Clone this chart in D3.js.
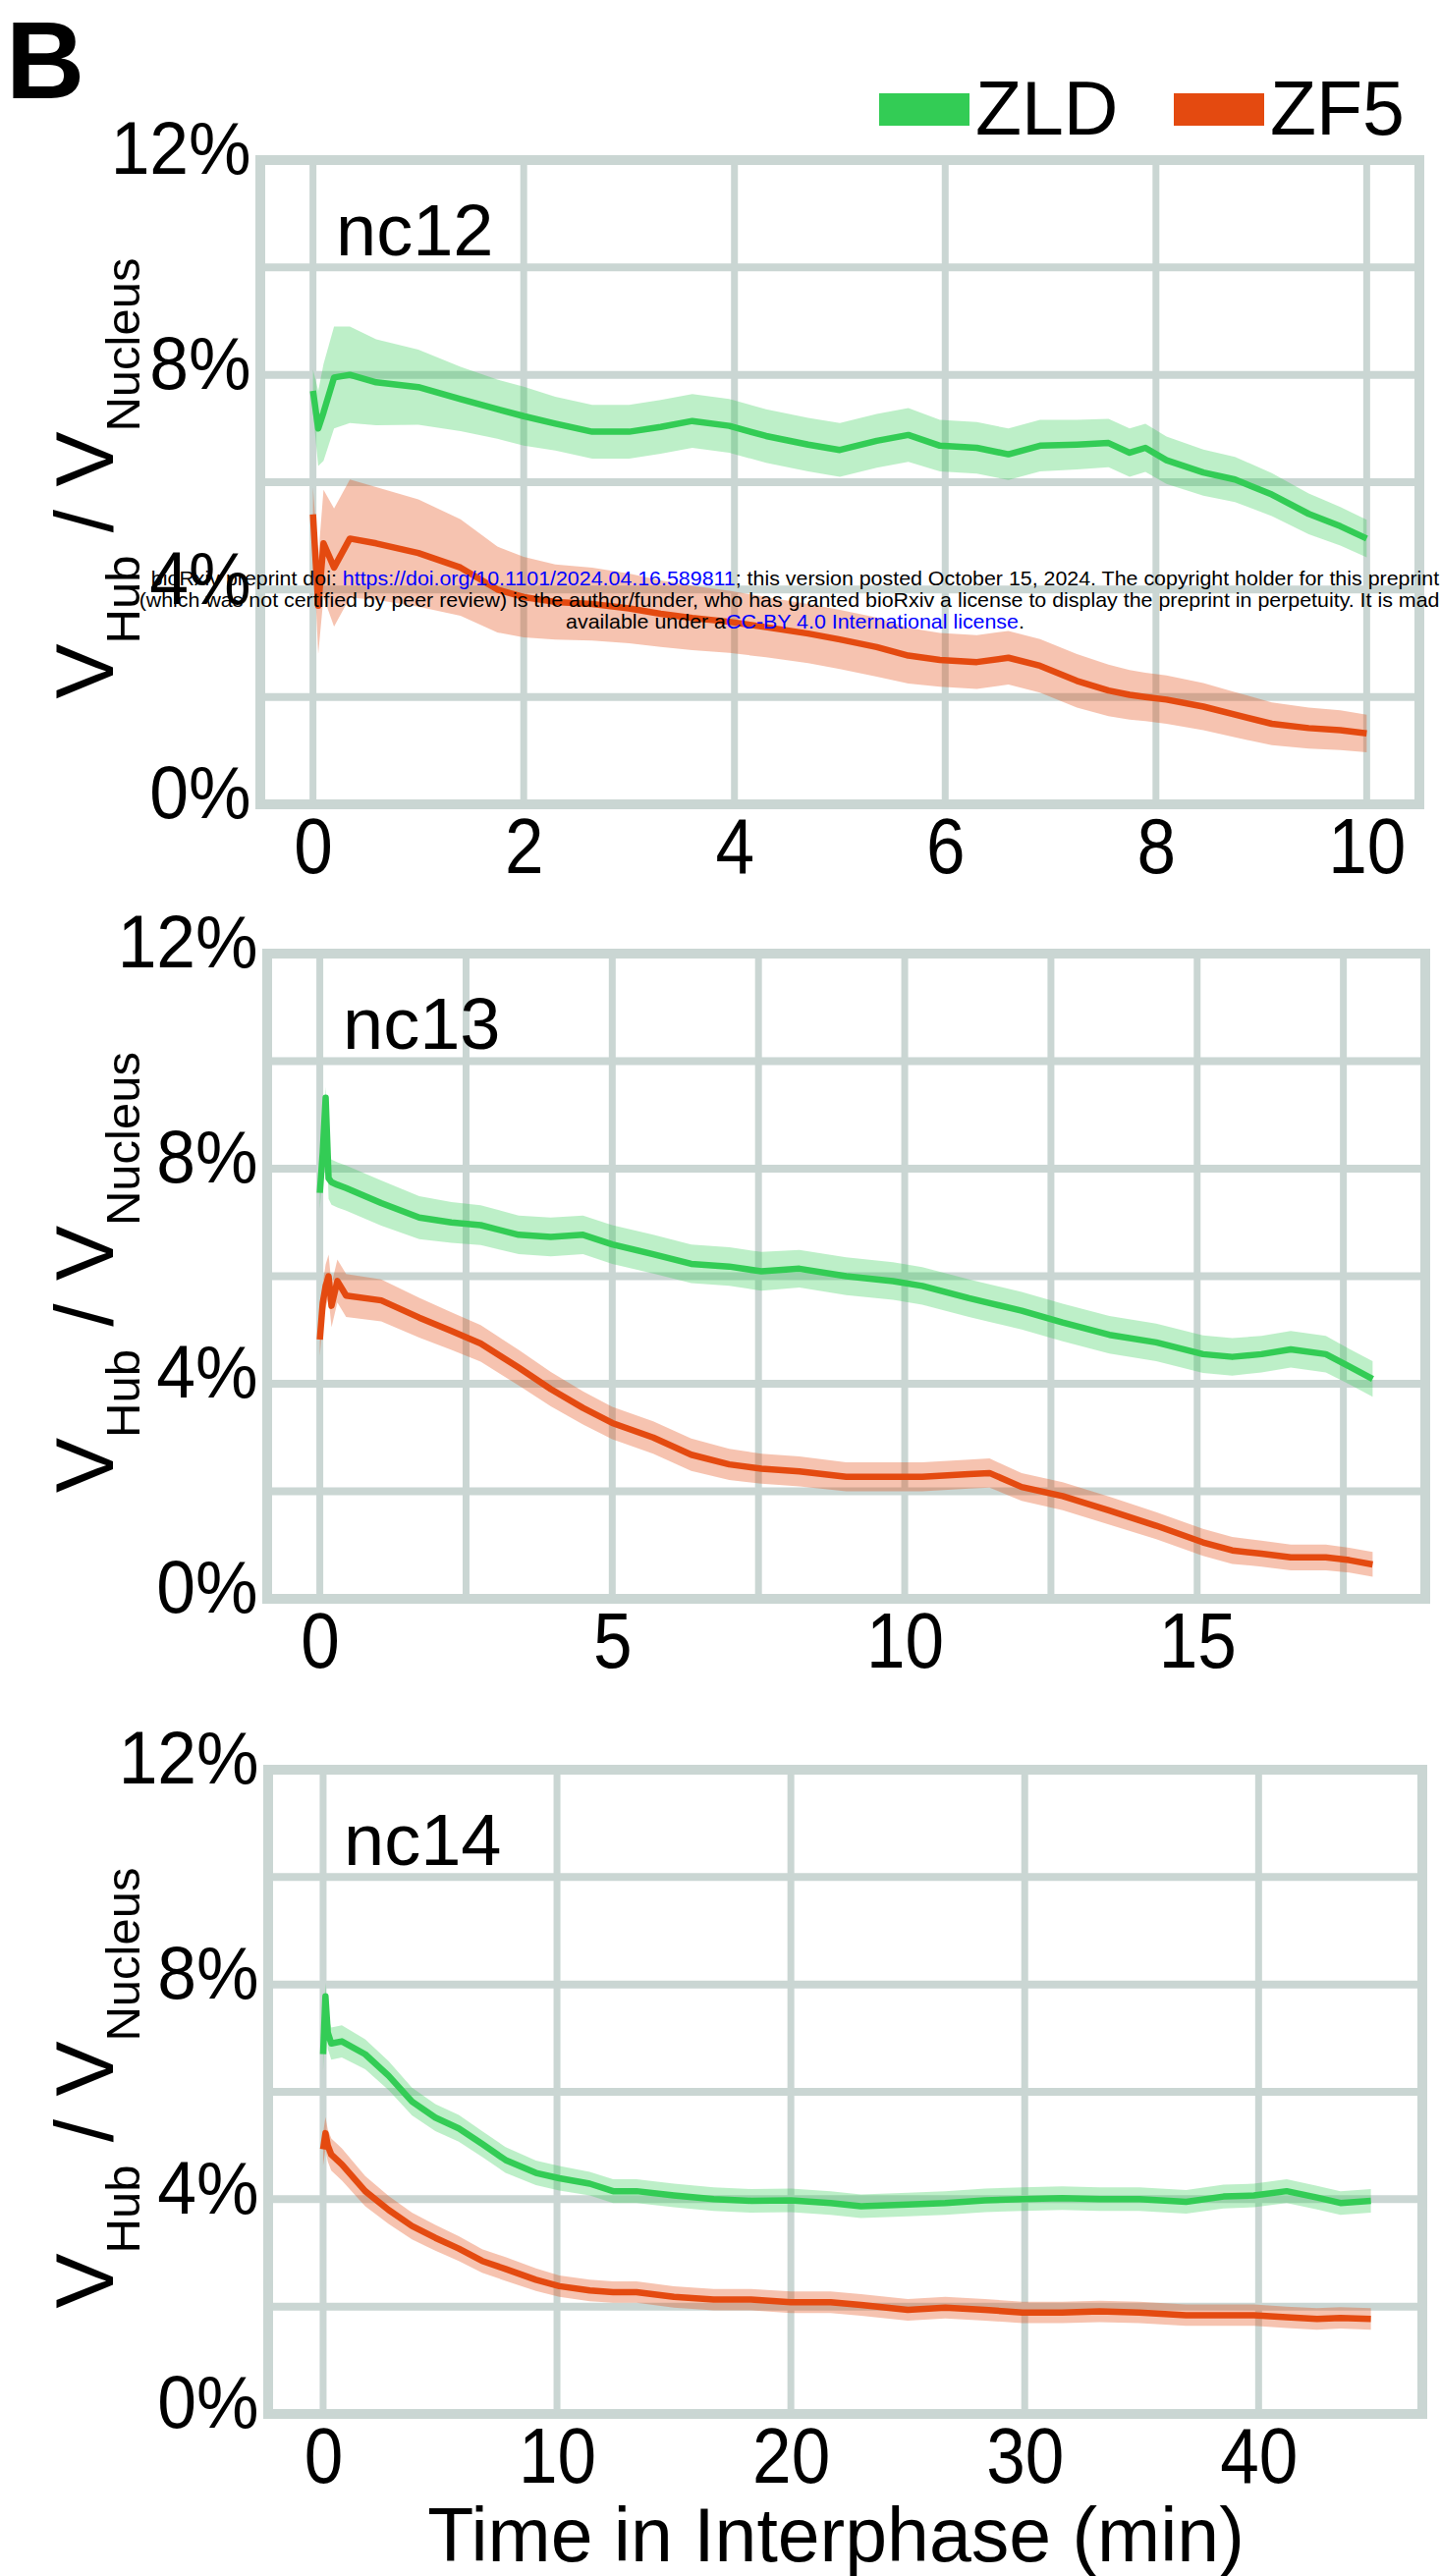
<!DOCTYPE html>
<html>
<head>
<meta charset="utf-8">
<script src="https://cdn.jsdelivr.net/npm/d3@7"></script>
<style>
  body { margin: 0; background: #fff; }
  svg { display: block; font-family: "Liberation Sans", Arial, sans-serif; }
</style>
</head>
<body>
<svg id="chart" width="1466" height="2623"></svg>
<script>
// ---- data (percent of nucleus volume) ----
var seriesNames = ["ZLD", "ZF5"];
var yTicks = [0, 4, 8, 12];
var yGrid = [0, 2, 4, 6, 8, 10, 12];

// nc12
var nc12Time = [0, 0.05, 0.1, 0.2, 0.35, 0.6, 1.0, 1.4, 1.75, 2.0, 2.3, 2.65, 3.0, 3.3, 3.6, 3.95, 4.3, 4.7, 5.0, 5.35, 5.65, 5.95, 6.3, 6.6, 6.9, 7.25, 7.55, 7.75, 7.9, 8.1, 8.45, 8.75, 9.1, 9.45, 9.75, 10.0];
var nc12Zld = [7.7, 7.0, 7.3, 7.95, 8.0, 7.86, 7.77, 7.55, 7.36, 7.23, 7.09, 6.94, 6.94, 7.03, 7.14, 7.05, 6.86, 6.7, 6.6, 6.77, 6.88, 6.68, 6.64, 6.52, 6.68, 6.7, 6.73, 6.55, 6.64, 6.41, 6.18, 6.05, 5.77, 5.41, 5.18, 4.95];
var nc12ZldSem = [0.4, 0.7, 0.9, 0.95, 0.9, 0.8, 0.7, 0.6, 0.55, 0.55, 0.5, 0.5, 0.5, 0.5, 0.5, 0.5, 0.5, 0.5, 0.5, 0.5, 0.5, 0.48, 0.48, 0.48, 0.48, 0.46, 0.45, 0.45, 0.45, 0.44, 0.43, 0.42, 0.4, 0.38, 0.36, 0.35];
var nc12Zf5 = [5.4, 3.7, 4.86, 4.41, 4.95, 4.86, 4.68, 4.41, 4.0, 3.86, 3.77, 3.73, 3.65, 3.55, 3.47, 3.4, 3.3, 3.18, 3.07, 2.93, 2.77, 2.69, 2.65, 2.73, 2.58, 2.3, 2.12, 2.04, 2.0, 1.95, 1.82, 1.67, 1.5, 1.42, 1.38, 1.32];
var nc12Zf5Sem = [0.5, 0.9, 1.0, 1.1, 1.1, 1.05, 1.0, 0.9, 0.8, 0.75, 0.7, 0.68, 0.65, 0.62, 0.6, 0.58, 0.56, 0.55, 0.55, 0.55, 0.52, 0.5, 0.5, 0.5, 0.5, 0.5, 0.48, 0.46, 0.45, 0.45, 0.44, 0.42, 0.4, 0.38, 0.37, 0.35];

// nc13
var nc13Time = [0, 0.05, 0.1, 0.15, 0.2, 0.3, 0.45, 1.05, 1.7, 2.25, 2.75, 3.4, 3.95, 4.5, 5.0, 5.7, 6.35, 7.0, 7.55, 8.2, 9.0, 9.8, 10.3, 11.1, 11.45, 12.0, 12.7, 13.5, 14.3, 15.1, 15.6, 16.1, 16.6, 17.2, 17.6, 18.0];
var nc13Zld = [7.55, 8.3, 9.32, 7.82, 7.75, 7.7, 7.64, 7.36, 7.09, 7.0, 6.95, 6.77, 6.73, 6.77, 6.59, 6.41, 6.23, 6.18, 6.09, 6.14, 6.0, 5.91, 5.82, 5.59, 5.5, 5.36, 5.14, 4.91, 4.77, 4.55, 4.5, 4.55, 4.64, 4.55, 4.32, 4.09];
var nc13ZldSem = [0.3, 0.3, 0.2, 0.38, 0.42, 0.42, 0.42, 0.42, 0.4, 0.38, 0.37, 0.36, 0.36, 0.36, 0.36, 0.36, 0.36, 0.36, 0.36, 0.35, 0.35, 0.35, 0.35, 0.35, 0.35, 0.35, 0.35, 0.35, 0.35, 0.35, 0.35, 0.34, 0.34, 0.34, 0.33, 0.33];
var nc13Zf5 = [4.82, 5.5, 5.82, 6.0, 5.45, 5.91, 5.64, 5.55, 5.23, 4.98, 4.75, 4.3, 3.9, 3.55, 3.27, 3.0, 2.68, 2.5, 2.42, 2.37, 2.27, 2.27, 2.27, 2.32, 2.34, 2.08, 1.91, 1.64, 1.36, 1.05, 0.9, 0.84, 0.77, 0.77, 0.72, 0.64];
var nc13Zf5Sem = [0.3, 0.35, 0.4, 0.4, 0.4, 0.4, 0.4, 0.39, 0.37, 0.35, 0.34, 0.33, 0.32, 0.31, 0.3, 0.3, 0.3, 0.29, 0.28, 0.28, 0.27, 0.27, 0.27, 0.27, 0.27, 0.26, 0.26, 0.26, 0.25, 0.25, 0.25, 0.24, 0.24, 0.24, 0.23, 0.23];

// nc14
var nc14Time = [0, 0.1, 0.2, 0.35, 0.8, 1.8, 2.8, 3.8, 4.8, 5.8, 6.8, 7.8, 9.1, 10.1, 11.4, 12.4, 13.4, 15.0, 16.7, 18.3, 20, 21.7, 23, 25, 26.6, 28.3, 29.9, 31.6, 33.2, 34.9, 36.9, 38.5, 39.8, 41.2, 42.5, 43.5, 44.8];
var nc14Zld = [6.7, 7.78, 7.1, 6.9, 6.94, 6.7, 6.3, 5.82, 5.52, 5.32, 5.03, 4.73, 4.49, 4.39, 4.29, 4.15, 4.15, 4.07, 4.0, 3.97, 3.98, 3.93, 3.87, 3.9, 3.93, 3.98, 4.0, 4.02, 4.0, 4.0, 3.95, 4.05, 4.07, 4.15, 4.03, 3.93, 3.97];
var nc14ZldSem = [0.3, 0.25, 0.3, 0.3, 0.3, 0.28, 0.27, 0.26, 0.25, 0.25, 0.24, 0.24, 0.23, 0.23, 0.22, 0.22, 0.22, 0.22, 0.22, 0.22, 0.22, 0.22, 0.22, 0.22, 0.22, 0.22, 0.22, 0.22, 0.22, 0.22, 0.22, 0.22, 0.22, 0.22, 0.22, 0.22, 0.22];
var nc14Zf5 = [4.93, 5.23, 5.0, 4.83, 4.65, 4.15, 3.8, 3.5, 3.28, 3.08, 2.85, 2.7, 2.5, 2.38, 2.3, 2.27, 2.27, 2.18, 2.13, 2.13, 2.08, 2.08, 2.03, 1.94, 1.98, 1.94, 1.89, 1.89, 1.91, 1.89, 1.84, 1.84, 1.84, 1.8, 1.77, 1.79, 1.77];
var nc14Zf5Sem = [0.3, 0.3, 0.3, 0.3, 0.3, 0.28, 0.26, 0.25, 0.24, 0.23, 0.22, 0.22, 0.21, 0.2, 0.2, 0.2, 0.2, 0.2, 0.2, 0.2, 0.2, 0.2, 0.2, 0.2, 0.2, 0.2, 0.2, 0.2, 0.2, 0.2, 0.2, 0.2, 0.2, 0.2, 0.2, 0.2, 0.2];

var nc12XTicks = [0, 2, 4, 6, 8, 10];
var nc13XTicks = [0, 5, 10, 15];
var nc13XGrid = [0, 2.5, 5, 7.5, 10, 12.5, 15, 17.5];
var nc14XTicks = [0, 10, 20, 30, 40];

// ---- look ----
var gridColor = "#cad6d3";
var zldColor = "#33cc55";
var zf5Color = "#e44a10";
var fontFamily = "'Liberation Sans', Arial, sans-serif";

var svg = d3.select("#chart");

var panels = [
  { name: "nc12", time: nc12Time, zld: nc12Zld, zldSem: nc12ZldSem, zf5: nc12Zf5, zf5Sem: nc12Zf5Sem,
    xDomain: [-0.5, 10.5], xTicks: nc12XTicks, xGrid: nc12XTicks,
    left: 265, right: 1445, top: 163, bottom: 819 },
  { name: "nc13", time: nc13Time, zld: nc13Zld, zldSem: nc13ZldSem, zf5: nc13Zf5, zf5Sem: nc13Zf5Sem,
    xDomain: [-0.9, 18.9], xTicks: nc13XTicks, xGrid: nc13XGrid,
    left: 272, right: 1451, top: 971, bottom: 1628 },
  { name: "nc14", time: nc14Time, zld: nc14Zld, zldSem: nc14ZldSem, zf5: nc14Zf5, zf5Sem: nc14Zf5Sem,
    xDomain: [-2.35, 47], xTicks: nc14XTicks, xGrid: nc14XTicks,
    left: 273, right: 1448, top: 1802, bottom: 2458 }
];

panels.forEach(drawPanel);

function drawPanel(p) {
  var x = d3.scaleLinear().domain(p.xDomain).range([p.left, p.right]);
  var y = d3.scaleLinear().domain([0, 12]).range([p.bottom, p.top]);
  var g = svg.append("g").attr("class", "panel");

  // grid
  g.append("g").selectAll("line")
    .data(p.xGrid).enter().append("line")
    .attr("x1", d => x(d)).attr("x2", d => x(d))
    .attr("y1", p.top).attr("y2", p.bottom)
    .attr("stroke", gridColor).attr("stroke-width", 7);
  g.append("g").selectAll("line")
    .data(yGrid).enter().append("line")
    .attr("x1", p.left).attr("x2", p.right)
    .attr("y1", d => y(d)).attr("y2", d => y(d))
    .attr("stroke", gridColor).attr("stroke-width", 8);

  // frame
  g.append("rect")
    .attr("x", p.left).attr("y", p.top)
    .attr("width", p.right - p.left).attr("height", p.bottom - p.top)
    .attr("fill", "none").attr("stroke", gridColor).attr("stroke-width", 10);

  var series = [
    { mean: p.zld, sem: p.zldSem, color: zldColor, bandOpacity: 0.32 },
    { mean: p.zf5, sem: p.zf5Sem, color: zf5Color, bandOpacity: 0.33 }
  ];

  series.forEach(function (s) {
    var pts = p.time.map(function (t, i) { return { t: t, m: s.mean[i], e: s.sem[i] }; });
    var area = d3.area()
      .x(d => x(d.t))
      .y0(d => y(d.m - d.e))
      .y1(d => y(d.m + d.e));
    var line = d3.line()
      .x(d => x(d.t))
      .y(d => y(d.m));
    g.append("path").datum(pts)
      .attr("d", area)
      .attr("fill", s.color).attr("fill-opacity", s.bandOpacity);
    g.append("path").datum(pts)
      .attr("d", line)
      .attr("fill", "none").attr("stroke", s.color)
      .attr("stroke-width", 6.5).attr("stroke-linejoin", "round");
  });

  // axes
  var xAxis = g.append("g")
    .attr("transform", "translate(0," + p.bottom + ")")
    .call(d3.axisBottom(x).tickValues(p.xTicks).tickSize(0).tickPadding(14));
  xAxis.select(".domain").remove();
  xAxis.selectAll("text").style("font-size", "79px").style("font-family", fontFamily)
    .attr("fill", "#000").attr("transform", "scale(0.9,1)");

  var yAxis = g.append("g")
    .attr("transform", "translate(" + p.left + ",0)")
    .call(d3.axisLeft(y).tickValues(yTicks).tickFormat(d => d + "%").tickSize(0).tickPadding(10));
  yAxis.select(".domain").remove();
  yAxis.selectAll("text").style("font-size", "76px").style("font-family", fontFamily)
    .attr("fill", "#000").attr("dy", "0.18em").attr("transform", "scale(0.94,1)");

  // panel label
  g.append("text")
    .attr("x", p.left + 77).attr("y", p.top + 97)
    .style("font-size", "74px")
    .text(p.name);

  // y title
  var cy = (p.top + p.bottom) / 2 - 4;
  var t = g.append("text")
    .attr("transform", "translate(115," + cy + ") rotate(-90)")
    .attr("text-anchor", "middle")
    .style("font-size", "84px");
  t.append("tspan").text("V");
  t.append("tspan").attr("dy", 27).style("font-size", "49px").text("Hub");
  t.append("tspan").attr("dy", -27).text("\u00a0/ V");
  t.append("tspan").attr("dy", 27).style("font-size", "49px").text("Nucleus");
}

// x title under last panel
svg.append("text")
  .attr("x", 851).attr("y", 2608)
  .attr("text-anchor", "middle")
  .style("font-size", "77px")
  .text("Time in Interphase (min)");

// panel letter
svg.append("text")
  .attr("x", 6).attr("y", 100)
  .style("font-size", "111px")
  .style("font-weight", "bold")
  .text("B");

// legend
var legendX = [895, 1195];
var legend = svg.append("g").selectAll("g")
  .data(seriesNames).enter().append("g")
  .attr("transform", (d, i) => "translate(" + legendX[i] + ",0)");
legend.append("rect")
  .attr("x", 0).attr("y", 95).attr("width", 92).attr("height", 33)
  .attr("fill", (d, i) => i === 0 ? zldColor : zf5Color);
legend.append("text")
  .attr("x", 98).attr("y", 137)
  .style("font-size", "77px")
  .text(d => d);

// bioRxiv stamp over the first panel
var stampLines = [
  [["bioRxiv preprint doi: ", "#000"], ["https://doi.org/10.1101/2024.04.16.589811", "#0000ff"], ["; this version posted October 15, 2024. The copyright holder for this preprint", "#000"]],
  [["(which was not certified by peer review) is the author/funder, who has granted bioRxiv a license to display the preprint in perpetuity. It is made", "#000"]],
  [["available under a", "#000"], ["CC-BY 4.0 International license", "#0000ff"], [".", "#000"]]
];
var stampY = [596, 618, 640];
var stamp = svg.append("g");
var stampTexts = stampLines.map(function (parts, i) {
  var txt = stamp.append("text")
    .attr("text-anchor", "middle")
    .style("font-size", "21px");
  parts.forEach(function (pt) {
    txt.append("tspan").attr("fill", pt[1]).text(pt[0]);
  });
  return txt;
});
var sx = 1312 / stampTexts[0].node().getComputedTextLength();
stampTexts.forEach(function (txt, i) {
  txt.attr("transform", "translate(809.5," + stampY[i] + ") scale(" + sx + ",1)");
});
</script>
</body>
</html>
